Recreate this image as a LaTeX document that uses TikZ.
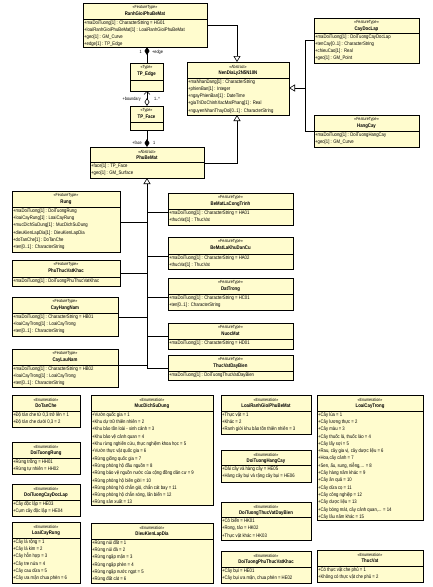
\documentclass[tikz,border=0pt]{standalone}
\usepackage{fontspec}
\setmainfont{Liberation Sans}[FakeStretch=0.83]
\usetikzlibrary{arrows.meta}
\definecolor{boxfill}{RGB}{255,252,206}
\definecolor{shadowc}{RGB}{110,110,110}
\tikzset{
 classbox/.style={draw=black, line width=0.7pt, fill=boxfill, inner sep=0pt, outer sep=0pt},
 hdr/.style={draw=black, line width=0.7pt},
 stereo/.style={font=\fontsize{4.4}{5}\selectfont, inner sep=0pt},
 ctitle/.style={font=\fontsize{5.2}{6}\selectfont\bfseries, inner sep=0pt},
 attrs/.style={font=\fontsize{5.1}{7.3}\selectfont, align=left, inner sep=0pt, anchor=north west},
 conn/.style={draw=black, line width=0.6pt},
 gen/.style={conn, -{Triangle[open, length=6pt, width=7pt]}},
 comp/.style={conn, {Diamond[length=8pt, width=5pt]}-},
 aggnav/.style={conn, {Diamond[open, length=8pt, width=5pt]}-{Straight Barb[length=3pt, width=6pt]}},
 lbl/.style={font=\fontsize{4.6}{5}\selectfont, inner sep=0pt},
}
\newcommand\umlbox[9]{%
 \fill[shadowc] ({#2+1.4},{#3+1.4}) rectangle ({#4+1.4},{#6+1.4});
 \node[classbox, anchor=north west, minimum width={(#4-#2)*1pt}, minimum height={(#6-#3)*1pt}] (#1) at (#2,#3) {};
 \draw[hdr] (#2,#5) -- (#4,#5);
 \node[stereo] (#1-st) at ({(#2+#4)/2},{#3+4.6}) {«#7»};
 \node[ctitle] (#1-tt) at ({(#2+#4)/2},{#3+11}) {#8};
 \node[attrs] (#1-at) at ({#2+1},{#5+1.2}) {#9};
}
\begin{document}
\begin{tikzpicture}[x=1pt,y=-1pt]
\fill[white] (0,0) rectangle (433,587);
\useasboundingbox (0,0) rectangle (433,587);

% ---------- top part ----------
\umlbox{RanhGioi}{83}{3}{207}{19}{47}{FeatureType}{RanhGioiPhuBeMat}{+maDoiTuong[1] : CharacterString = HG01\\+loaiRanhGioiPhuBeMat[1] : LoaiRanhGioiPhuBeMat\\+geo[1] : GM\_Curve\\+edge[1] : TP\_Edge}
\umlbox{NenDiaLy}{187}{62}{289}{78}{115}{Abstract}{NenDiaLy2N5N10N}{+maNhanDang[1] : CharacterString\\+phienBan[1] : Integer\\+ngayPhienBan[1] : DateTime\\+giaTriDoChinhXacMatPhang[1] : Real\\+nguyenNhanThayDoi[0..1] : CharacterString}
\umlbox{CayDocLap}{314}{18}{419}{33}{63}{FeatureType}{CayDocLap}{+maDoiTuong[1] : DoiTuongCayDocLap\\+tenCay[0..1] : CharacterString\\+chieuCao[1] : Real\\+geo[1] : GM\_Point}
\umlbox{HangCay}{314}{115}{419}{131}{147}{FeatureType}{HangCay}{+maDoiTuong[1] : DoiTuongHangCay\\+geo[1] : GM\_Curve}
\umlbox{TPEdge}{130}{63}{163}{80}{91}{Type}{TP\_Edge}{}
\umlbox{TPFace}{130}{106}{163}{122}{130}{Type}{TP\_Face}{}
\umlbox{PhuBeMat}{90}{147}{204}{162}{178}{Abstract}{PhuBeMat}{+face[1] : TP\_Face\\+geo[1] : GM\_Surface}

% ---------- subclasses of PhuBeMat ----------
\umlbox{Rung}{12}{191}{120}{207}{252}{FeatureType}{Rung}{+maDoiTuong[1] : DoiTuongRung\\+loaiCayRung[1] : LoaiCayRung\\+mucDichSuDung[1] : MucDichSuDung\\+dieuKienLapDia[1] : DieuKienLapDia\\+doTanChe[1] : DoTanChe\\+ten[0..1] : CharacterString}
\umlbox{PhuThucVatKhac}{12}{260}{120}{277}{286}{FeatureType}{PhuThucVatKhac}{+maDoiTuong[1] : DoiTuongPhuThucVatKhac}
\umlbox{CayHangNam}{12}{297}{118}{313}{336}{FeatureType}{CayHangNam}{+maDoiTuong[1] : CharacterString = HB01\\+loaiCayTrong[1] : LoaiCayTrong\\+ten[0..1] : CharacterString}
\umlbox{CayLauNam}{12}{349}{118}{365}{387}{FeatureType}{CayLauNam}{+maDoiTuong[1] : CharacterString = HB02\\+loaiCayTrong[1] : LoaiCayTrong\\+ten[0..1] : CharacterString}
\umlbox{BeMatLaCongTrinh}{168}{193}{293}{209}{225}{FeatureType}{BeMatLaCongTrinh}{+maDoiTuong[1] : CharacterString = HA01\\+thucVat[1] : ThucVat}
\umlbox{BeMatLaKhuDanCu}{168}{237}{293}{254}{269}{FeatureType}{BeMatLaKhuDanCu}{+maDoiTuong[1] : CharacterString = HA02\\+thucVat[1] : ThucVat}
\umlbox{DatTrong}{168}{278}{293}{294}{310}{FeatureType}{DatTrong}{+maDoiTuong[1] : CharacterString = HC01\\+ten[0..1] : CharacterString}
\umlbox{NuocMat}{168}{323}{293}{339}{349}{FeatureType}{NuocMat}{+maDoiTuong[1] : CharacterString = HD01}
\umlbox{ThucVatDayBien}{168}{355}{293}{371}{380}{FeatureType}{ThucVatDayBien}{+maDoiTuong[1] : DoiTuongThucVatDayBien}

% ---------- enumerations ----------
\umlbox{DoTanChe}{12}{395}{80}{411}{427}{Enumeration}{DoTanChe}{+Độ tàn che từ 0,3 trở lên = 1\\+Độ tàn che dưới 0,3 = 2}
\umlbox{DoiTuongRung}{12}{442}{80}{458}{474}{Enumeration}{DoiTuongRung}{+Rừng trồng = HH01\\+Rừng tự nhiên = HH02}
\umlbox{DoiTuongCayDocLap}{12}{484}{80}{500}{516}{Enumeration}{DoiTuongCayDocLap}{+Cây độc lập = HE03\\+Cụm cây độc lập = HE04}
\umlbox{LoaiCayRung}{12}{522}{80}{538}{583}{Enumeration}{LoaiCayRung}{+Cây lá rộng = 1\\+Cây lá kim = 2\\+Cây hỗn hợp = 3\\+Cây tre nứa = 4\\+Cây cau dừa = 5\\+Cây ưa mặn chua phèn = 6}
\umlbox{MucDichSuDung}{91}{395}{213}{411}{505}{Enumeration}{MucDichSuDung}{+Vườn quốc gia = 1\\+Khu dự trữ thiên nhiên = 2\\+Khu bảo tồn loài - sinh cảnh = 3\\+Khu bảo vệ cảnh quan = 4\\+Khu rừng nghiên cứu, thực nghiệm khoa học = 5\\+Vườn thực vật quốc gia = 6\\+Rừng giống quốc gia = 7\\+Rừng phòng hộ đầu nguồn = 8\\+Rừng bảo vệ nguồn nước của cộng đồng dân cư = 9\\+Rừng phòng hộ biên giới = 10\\+Rừng phòng hộ chắn gió, chắn cát bay = 11\\+Rừng phòng hộ chắn sóng, lấn biển = 12\\+Rừng sản xuất = 13}
\umlbox{DieuKienLapDia}{91}{523}{213}{539}{583}{Enumeration}{DieuKienLapDia}{+Rừng núi đất = 1\\+Rừng núi đá = 2\\+Rừng ngập mặn = 3\\+Rừng ngập phèn = 4\\+Rừng ngập nước ngọt = 5\\+Rừng đất cát = 6}
\umlbox{LoaiRanhGioiPhuBeMat}{221}{395}{311}{411}{434}{Enumeration}{LoaiRanhGioiPhuBeMat}{+Thực vật = 1\\+Khác = 2\\+Ranh giới khu bảo tồn thiên nhiên = 3}
\umlbox{DoiTuongHangCay}{221}{450}{311}{465}{482}{Enumeration}{DoiTuongHangCay}{+Dải cây và hàng cây = HE05\\+Hàng cây bụi và rặng cây bụi = HE06}
\umlbox{DoiTuongThucVatDayBien}{221}{502}{311}{517}{540}{Enumeration}{DoiTuongThucVatDayBien}{+Cỏ biển = HK01\\+Rong, tảo = HK02\\+Thực vật khác = HK03}
\umlbox{DoiTuongPhuThucVatKhac}{221}{551}{311}{567}{583}{Enumeration}{DoiTuongPhuThucVatKhac}{+Cây bụi = HE01\\+Cây bụi ưa mặn, chua phèn = HE02}
\umlbox{LoaiCayTrong}{317}{395}{423}{411}{520}{Enumeration}{LoaiCayTrong}{+Cây lúa = 1\\+Cây lương thực = 2\\+Cây màu = 3\\+Cây thuốc lá, thuốc lào = 4\\+Cây lấy sợi = 5\\+Rau, cây gia vị, cây dược liệu = 6\\+Hoa,cây cảnh = 7\\+Sen, ấu, sung, niễng,... = 8\\+Cây hàng năm khác = 9\\+Cây ăn quả = 10\\+Cây dừa cọ = 11\\+Cây công nghiệp = 12\\+Cây dược liệu = 13\\+Cây bóng mát, cây cảnh quan,... = 14\\+Cây lâu năm khác = 15}
\umlbox{ThucVat}{317}{550}{423}{566}{582}{Enumeration}{ThucVat}{+Có thực vật che phủ = 1\\+Không có thực vật che phủ = 2}

% ---------- connectors ----------
\draw[gen] (RanhGioi.east |- 0,25) -- (237,25) -- (NenDiaLy.north -| 237,0);
\draw[gen] (CayDocLap.west |- 0,40) -- (305,40) -- (305,88) -- (NenDiaLy.east |- 0,88);
\draw[conn] (HangCay.west |- 0,131) -- (305,131) -- (305,88);
\draw[gen] (PhuBeMat.east |- 0,163) -- (237,163) -- (NenDiaLy.south -| 237,0);
\draw[comp] (RanhGioi.south -| 147,0) -- (TPEdge.north -| 147,0);
\draw[aggnav] (TPFace.north -| 147,0) -- (TPEdge.south -| 147,0);
\draw[comp] (PhuBeMat.north -| 147,0) -- (TPFace.south -| 147,0);
\node[lbl, anchor=east] (l1) at (142,52) {1};
\node[lbl, anchor=west] (l2) at (152,52) {+edge};
\node[lbl, anchor=east] (l3) at (141,99) {+boundary};
\node[lbl, anchor=west] (l4) at (154,99) {1..*};
\node[lbl, anchor=east] (l5) at (142,143) {+face};
\node[lbl, anchor=west] (l6) at (153,143) {1};

\coordinate (bus) at (147,0);
\draw[gen] (bus |- 0,368) -- (PhuBeMat.south -| bus);
\draw[conn] (Rung.east |- 0,222) -- (bus |- 0,222);
\draw[conn] (PhuThucVatKhac.east |- 0,273) -- (bus |- 0,273);
\draw[conn] (CayHangNam.east |- 0,317) -- (bus |- 0,317);
\draw[conn] (CayLauNam.east |- 0,365) -- (bus |- 0,365);
\draw[conn] (BeMatLaCongTrinh.west |- 0,212) -- (bus |- 0,212);
\draw[conn] (BeMatLaKhuDanCu.west |- 0,256) -- (bus |- 0,256);
\draw[conn] (DatTrong.west |- 0,297) -- (bus |- 0,297);
\draw[conn] (NuocMat.west |- 0,336) -- (bus |- 0,336);
\draw[conn] (ThucVatDayBien.west |- 0,368) -- (bus |- 0,368);
\end{tikzpicture}
\end{document}
